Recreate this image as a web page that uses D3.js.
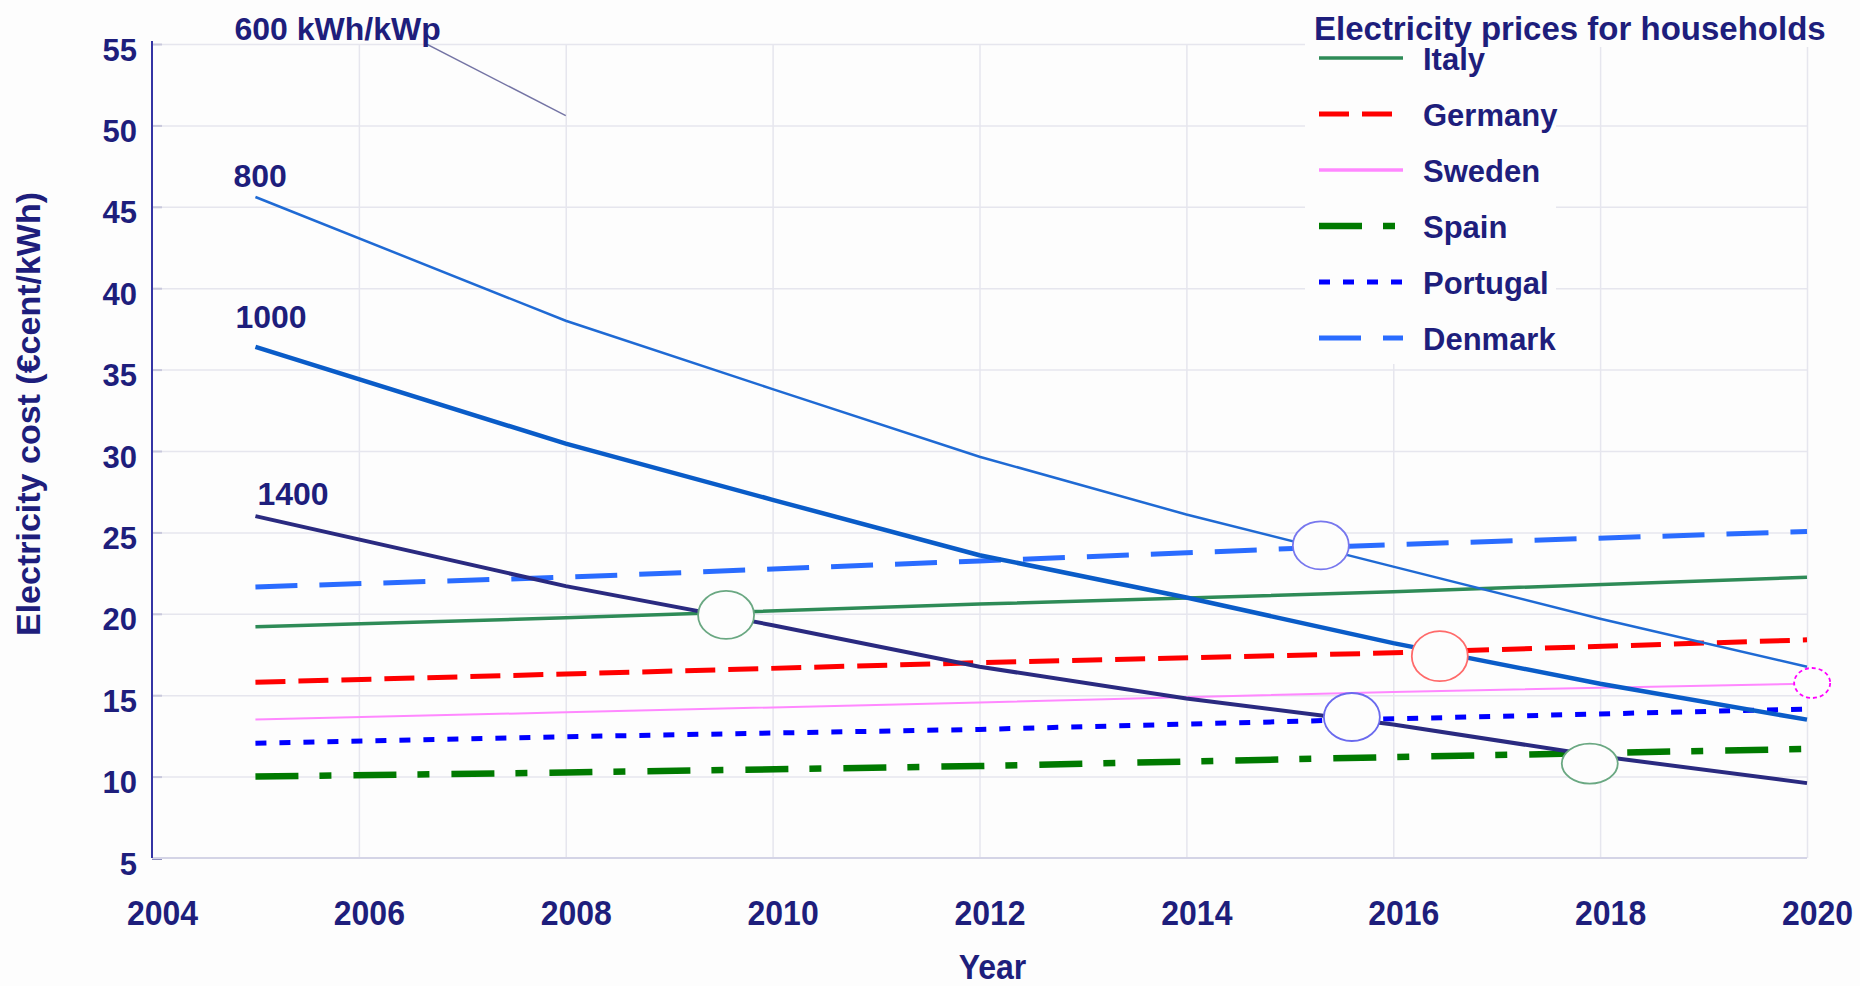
<!DOCTYPE html>
<html>
<head>
<meta charset="utf-8">
<script src="https://cdn.jsdelivr.net/npm/d3@7"></script>
<style>
  html, body { margin: 0; padding: 0; background: #fdfdfd; }
  svg { display: block; font-family: "Liberation Sans", Arial, sans-serif; }
</style>
</head>
<body>
<svg id="chart" width="1860" height="986"></svg>
<script>
// Electricity prices for households (€cent/kWh), read at these years
var priceYears = [2005, 2008, 2012, 2016, 2020]
var italy    = [19.2, 19.75, 20.6, 21.35, 22.25]
var germany  = [15.8, 16.3, 17.0, 17.6, 18.4]
var sweden   = [13.5, 13.95, 14.55, 15.2, 15.7]
var spain    = [10.0, 10.25, 10.65, 11.2, 11.7]
var portugal = [12.05, 12.45, 12.9, 13.55, 14.15]
var denmark  = [21.65, 22.25, 23.25, 24.25, 25.05]

var countries     = ["Italy", "Germany", "Sweden", "Spain", "Portugal", "Denmark"]
var countryValues = [italy, germany, sweden, spain, portugal, denmark]

// PV electricity cost for different yields (kWh/kWp)
var pvYears = [2005, 2008, 2010, 2012, 2014, 2016, 2018, 2020]
var pv800   = [45.6, 38.0, 33.8, 29.65, 26.1, 22.9, 19.7, 16.75]
var pv1000  = [36.4, 30.45, 27.0, 23.6, 21.0, 18.2, 15.7, 13.5]
var pv1400  = [26.0, 21.7, 19.3, 16.75, 14.8, 13.2, 11.25, 9.6]
var pv600Years = [2005, 2008]
var pv600      = [60.4, 50.6]

var pvNames = ["600 kWh/kWp", "800", "1000", "1400"]

// grid parity points circled on the chart
var markYears  = [2009.55, 2015.3, 2016.45, 2015.6, 2017.9, 2020.05]
var markValues = [19.93, 24.2, 17.4, 13.66, 10.8, 15.75]

var xTicks = [2004, 2006, 2008, 2010, 2012, 2014, 2016, 2018, 2020]
var yTicks = [5, 10, 15, 20, 25, 30, 35, 40, 45, 50, 55]

var legendTitle = "Electricity prices for households"
var xTitle = "Year"
var yTitle = "Electricity cost (€cent/kWh)"


// ---- styles ----
var navy = "#1e1e7c"
var countryStyle = {
    Italy:    { color: "#2e8b57", width: 3.5, dash: null },
    Germany:  { color: "#ff0000", width: 5,   dash: "30,13" },
    Sweden:   { color: "#ff88ff", width: 2,   dash: null },
    Spain:    { color: "#007a00", width: 6.5, dash: "43,21,12,22" },
    Portugal: { color: "#0000ff", width: 5,   dash: "11,13" },
    Denmark:  { color: "#2a6cff", width: 5,   dash: "42,22" }
}
var pvStyle = [
    { color: "#7474a4", width: 1.5 },
    { color: "#1f6ad4", width: 2.5 },
    { color: "#0a5cc8", width: 4.5 },
    { color: "#2a2a80", width: 4 }
]
// label offset from the first point of each PV line
var pvLabelPos = [[-21, 0], [-22, -10], [-20, -19], [2, -11]]
var markStyle = [
    { color: "#6aa882", rx: 28, ry: 24, dash: null },
    { color: "#7777ee", rx: 28, ry: 24, dash: null },
    { color: "#ff6a6a", rx: 28, ry: 25, dash: null },
    { color: "#6a6aee", rx: 28, ry: 24, dash: null },
    { color: "#6aa882", rx: 28, ry: 20, dash: null },
    { color: "#ff00ff", rx: 18, ry: 15, dash: "4,3" }
]

var plotLeft = 152, plotRight = 1807, plotTop = 44, plotBottom = 858

var x = d3.scaleLinear().domain([2004, 2020]).range([plotLeft, plotRight])
var y = d3.scaleLinear().domain([5, 55]).range([plotBottom, plotTop])

var svg = d3.select('#chart')

svg.append("rect")
    .attr("width", "100%")
    .attr("height", "100%")
    .attr("fill", "#fdfdfd")

svg.append("clipPath")
    .attr("id", "plot-clip")
  .append("rect")
    .attr("x", plotLeft)
    .attr("y", plotTop)
    .attr("width", plotRight - plotLeft + 20)
    .attr("height", plotBottom - plotTop)

// Grid lines
svg.append("g")
    .attr("transform", "translate(0," + plotBottom + ")")
    .call(d3.axisBottom(x).tickValues(xTicks.slice(1)).tickSize(-(plotBottom - plotTop)).tickFormat(""))
    .call(g => g.select(".domain").remove())
    .selectAll("line")
    .attr("stroke", "#e6e6ee")
    .attr("stroke-width", 1.5)

svg.append("g")
    .attr("transform", "translate(" + plotLeft + ",0)")
    .call(d3.axisLeft(y).tickValues(yTicks.slice(1)).tickSize(-(plotRight - plotLeft)).tickFormat(""))
    .call(g => g.select(".domain").remove())
    .selectAll("line")
    .attr("stroke", "#e6e6ee")
    .attr("stroke-width", 1.5)

// short inner ticks on the y axis
svg.append("g")
    .attr("transform", "translate(" + plotLeft + ",0)")
    .call(d3.axisRight(y).tickValues(yTicks).tickSize(10).tickFormat(""))
    .call(g => g.select(".domain").remove())
    .selectAll("line")
    .attr("stroke", function(d) { return d == 5 ? navy : "#c8c8dc" })
    .attr("stroke-width", 2)

// Axis lines
svg.append("line")
    .style("stroke", "#d4d4e6")
    .style("stroke-width", 2)
    .attr("x1", plotLeft)
    .attr("y1", plotBottom)
    .attr("x2", plotRight)
    .attr("y2", plotBottom)

svg.append("line")
    .style("stroke", "#3434a4")
    .style("stroke-width", 2)
    .attr("x1", plotLeft)
    .attr("y1", plotTop - 3)
    .attr("x2", plotLeft)
    .attr("y2", plotBottom)

// Tick labels (the x labels are a little taller than the font, as in the original)
svg.append("g")
    .attr("transform", "translate(0," + plotBottom + ")")
    .call(d3.axisBottom(x).tickValues(xTicks).tickSize(0).tickFormat(d3.format("d")))
    .call(g => g.select(".domain").remove())
    .selectAll("text")
    .attr("y", 0)
    .attr("dy", 0)
    .attr("transform", "translate(10,67) scale(1,1.1)")
    .attr("fill", navy)
    .style("font-size", "32px")
    .style("font-weight", "bold")
    .style("font-family", "'Liberation Sans', Arial, sans-serif")

svg.append("g")
    .attr("transform", "translate(" + plotLeft + ",0)")
    .call(d3.axisLeft(y).tickValues(yTicks).tickSize(0).tickPadding(15))
    .call(g => g.select(".domain").remove())
    .selectAll("text")
    .attr("dy", "0.52em")
    .attr("fill", navy)
    .style("font-size", "31px")
    .style("font-weight", "bold")
    .style("font-family", "'Liberation Sans', Arial, sans-serif")

// Axis titles
svg.append("text")
    .text(xTitle)
    .attr("transform", "translate(" + (x(2012) + 13) + ",979) scale(1,1.1)")
    .attr("text-anchor", "middle")
    .attr("fill", navy)
    .style("font-size", "32px")
    .style("font-weight", "bold")

svg.append("text")
    .text(yTitle)
    .attr("transform", "translate(40," + 414 + ") rotate(-90)")
    .attr("text-anchor", "middle")
    .attr("fill", navy)
    .style("font-size", "34px")
    .style("font-weight", "bold")

function zip(xs, vs) {
    return xs.map(function(d, i) { return { year: d, value: vs[i] } })
}

var line = d3.line()
    .x(function(d) { return x(d.year) })
    .y(function(d) { return y(d.value) })

// Country price lines
var plot = svg.append("g").attr("clip-path", "url(#plot-clip)")

countries.forEach(function(name, i) {
    var s = countryStyle[name]
    plot.append("path")
        .datum(zip(priceYears, countryValues[i]))
        .attr("d", line)
        .attr("fill", "none")
        .attr("stroke", s.color)
        .attr("stroke-width", s.width)
        .attr("stroke-dasharray", s.dash)
})

// PV cost lines
var pvSeries = [zip(pv600Years, pv600), zip(pvYears, pv800), zip(pvYears, pv1000), zip(pvYears, pv1400)]

pvSeries.forEach(function(pts, i) {
    plot.append("path")
        .datum(pts)
        .attr("d", line)
        .attr("fill", "none")
        .attr("stroke", pvStyle[i].color)
        .attr("stroke-width", pvStyle[i].width)
})

// PV labels (the 600 line starts above the plot, so its label sits on the top edge)
pvSeries.forEach(function(pts, i) {
    var p = pts[0]
    svg.append("text")
        .text(pvNames[i])
        .attr("x", x(p.year) + pvLabelPos[i][0])
        .attr("y", (i == 0 ? plotTop - 4 : y(p.value) + pvLabelPos[i][1]))
        .attr("fill", navy)
        .style("font-size", "32px")
        .style("font-weight", "bold")
})

// Circled crossing points
markYears.forEach(function(yr, i) {
    var m = markStyle[i]
    svg.append("ellipse")
        .attr("cx", x(yr))
        .attr("cy", y(markValues[i]))
        .attr("rx", m.rx)
        .attr("ry", m.ry)
        .attr("fill", "#fdfdfd")
        .attr("stroke", m.color)
        .attr("stroke-width", 1.8)
        .attr("stroke-dasharray", m.dash)
})

// Legend
var lgX = 1319, lgY = 58, lgStep = 56

svg.append("rect")
    .attr("x", 1305).attr("y", 0)
    .attr("width", 530).attr("height", 47)
    .attr("fill", "#fdfdfd")

svg.append("rect")
    .attr("x", 1305).attr("y", 0)
    .attr("width", 251).attr("height", 364)
    .attr("fill", "#fdfdfd")

svg.append("text")
    .text(legendTitle)
    .attr("x", 1314)
    .attr("y", 40)
    .attr("fill", navy)
    .style("font-size", "33px")
    .style("font-weight", "bold")

countries.forEach(function(name, i) {
    var s = countryStyle[name]
    var ly = lgY + i * lgStep
    svg.append("line")
        .attr("x1", lgX)
        .attr("x2", lgX + 84)
        .attr("y1", ly)
        .attr("y2", ly)
        .attr("stroke", s.color)
        .attr("stroke-width", Math.max(s.width, 3.5))
        .attr("stroke-dasharray", s.dash)

    svg.append("text")
        .text(name)
        .attr("x", lgX + 104)
        .attr("y", ly + 1)
        .attr("dy", "0.36em")
        .attr("fill", navy)
        .style("font-size", "31px")
        .style("font-weight", "bold")
})
</script>
</body>
</html>
